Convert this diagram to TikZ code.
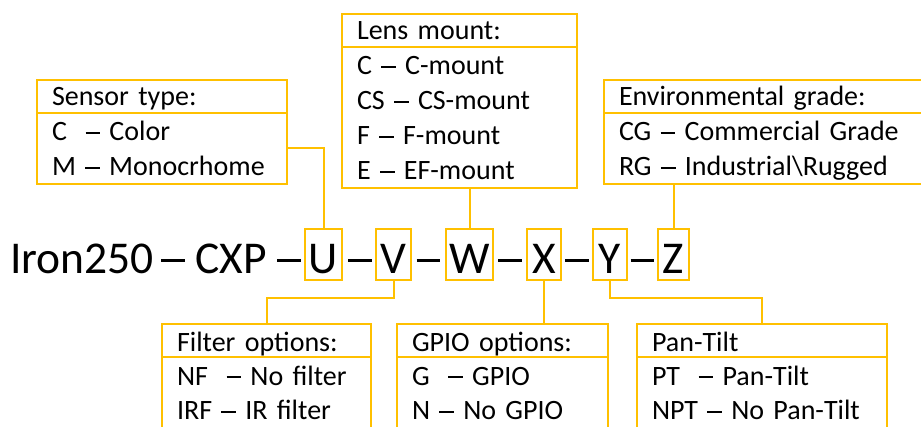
\documentclass[tikz,border=0pt]{standalone}
\usepackage{fontspec}
\setmainfont{Carlito}
\usetikzlibrary{positioning}
\definecolor{gold}{HTML}{FFC000}
\hyphenpenalty=10000
\exhyphenpenalty=10000
\newcommand{\odash}{\rule[0.253em]{0.52em}{0.066em}}
\newcommand{\firstrow}{\rule{0pt}{28pt}}
\newcommand{\lastrow}{\rule[-8pt]{0pt}{8pt}}
\newcommand{\cutrow}{\rule[-20pt]{0pt}{20pt}}
\begin{document}
\begin{tikzpicture}[x=1pt,y=-1pt]
\tikzset{bigtext/.style = {inner sep=0pt, anchor=base, font=\fontsize{45.5}{50}\selectfont}}
\tikzset{partbox/.style = {draw=gold, line width=2pt, inner sep=0pt, outer sep=0pt, anchor=base, text height=45pt, text depth=6pt, font=\fontsize{45.5}{50}\selectfont}}
\tikzset{headbox/.style = {draw=gold, line width=2pt, inner xsep=15pt, inner ysep=0pt, outer sep=0pt, anchor=north west, align=left, text height=26pt, text depth=7pt, font=\fontsize{28}{35}\selectfont}}
\tikzset{listbox/.style = {draw=gold, line width=2pt, inner xsep=15pt, inner ysep=0pt, outer sep=0pt, align=left, font=\fontsize{28}{35}\selectfont}}
\tikzset{link/.style = {draw=gold, line width=2pt}}
\useasboundingbox (0,0) rectangle (921,427);
\clip (0,0) rectangle (921,427);
% part number in the middle
\node[bigtext, anchor=base west] (name) at (10,274) {Iron250\,\odash\ CXP \odash};
\node[partbox, minimum width=37pt] (boxU) at (323.5,274) {U};
\node[bigtext] (d1) at (360,274) {\odash};
\node[partbox, minimum width=35pt] (boxV) at (393.5,274) {V};
\node[bigtext] (d2) at (428.5,274) {\odash};
\node[partbox, minimum width=47pt] (boxW) at (469.5,274) {W};
\node[bigtext] (d3) at (510,274) {\odash};
\node[partbox, minimum width=34pt] (boxX) at (544,274) {X};
\node[bigtext] (d4) at (577,274) {\odash};
\node[partbox, minimum width=34pt] (boxY) at (610,274) {Y};
\node[bigtext] (d5) at (642.5,274) {\odash};
\node[partbox, minimum width=31pt] (boxZ) at (673.5,274) {Z};
% option boxes at the top
\node[headbox, text width=220pt] (senshead) at (37,80) {Sensor type:};
\node[listbox, text width=220pt, below=0pt of senshead] (sensbody) {\firstrow C~~\odash~Color\\M~\odash~Monocrhome\lastrow};
\node[headbox, text width=205pt] (lenshead) at (342,14) {Lens mount:};
\node[listbox, text width=205pt, below=0pt of lenshead] (lensbody) {\firstrow C~\odash~C-mount\\CS~\odash~CS-mount\\F~\odash~F-mount\\E~\odash~EF-mount\lastrow};
\node[headbox, text width=296pt] (envhead) at (604,80) {Environmental grade:};
\node[listbox, text width=296pt, below=0pt of envhead] (envbody) {\firstrow CG~\odash~Commercial Grade\\RG~\odash~Industrial\textbackslash Rugged\lastrow};
% option boxes at the bottom
\node[headbox, text width=179pt, text height=28pt, text depth=5pt] (filthead) at (162,324) {Filter options:};
\node[listbox, text width=179pt, below=0pt of filthead] (filtbody) {\firstrow NF~~\odash~No filter\\IRF~\odash~IR filter\cutrow};
\node[headbox, text width=181pt, text height=28pt, text depth=5pt] (gpiohead) at (397,324) {GPIO options:};
\node[listbox, text width=181pt, below=0pt of gpiohead] (gpiobody) {\firstrow G~~\odash~GPIO\\N~\odash~No GPIO\cutrow};
\node[headbox, text width=220pt, text height=28pt, text depth=5pt] (panhead) at (637,324) {Pan-Tilt};
\node[listbox, text width=220pt, below=0pt of panhead] (panbody) {\firstrow PT~~\odash~Pan-Tilt\\NPT~\odash~No Pan-Tilt\cutrow};
% links to the top boxes
\draw[link] (sensbody.east) -| (boxU.north);
\draw[link] (lensbody.south -| boxW.north) -- (boxW.north);
\draw[link] (envbody.south -| boxZ.north) -- (boxZ.north);
% links to the bottom boxes
\coordinate (split) at (0,298);
\draw[link] (boxV.south) -- (boxV.south |- split) -| (filthead.north);
\draw[link] (boxX.south) -- (boxX.south |- gpiohead.north);
\draw[link] (boxY.south) -- (boxY.south |- split) -| (panhead.north);
\end{tikzpicture}
\end{document}
